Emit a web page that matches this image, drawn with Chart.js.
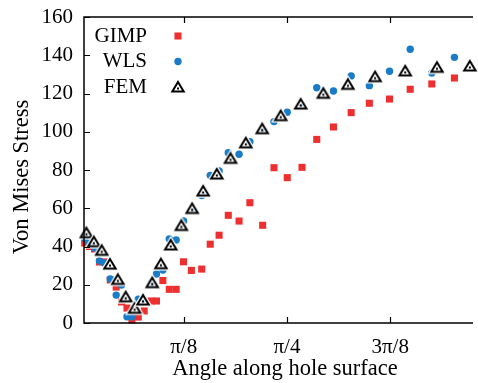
<!DOCTYPE html>
<html>
<head>
<meta charset="utf-8">
<script src="https://cdn.jsdelivr.net/npm/chart.js@4/dist/chart.umd.min.js"></script>
<style>
  html, body { margin: 0; padding: 0; background: #fff; }
</style>
</head>
<body>
<canvas id="stressChart" width="478" height="383"></canvas>
<script>
// angle along the hole surface, in degrees (ticks are shown as fractions of pi)
const angles = [0.92, 1.99, 3.06, 4.14, 5.21, 6.49, 7.78, 8.96, 10.13, 11.21, 12.6, 13.88, 15.38, 16.56, 17.96, 19.35, 20.85, 22.46, 24.17, 26.42, 28.28, 30.21, 32.21, 34.56, 36.92, 39.7, 42.17, 45.06, 48.28, 51.49, 55.13, 58.99, 62.95, 67.35, 71.85, 76.56, 81.49];
const gimp = [41.8, 40, 38.7, 31.9, 31.9, 22.5, 18.8, 11, 7.8, 1.6, 3.1, 6.3, 11.5, 11.5, 22.2, 17.6, 17.6, 32, 27.5, 28.2, 41.2, 45.9, 56.3, 53.3, 62.9, 51.1, 81.2, 76, 81.4, 96, 102.5, 110, 114.9, 117.1, 122.2, 125, 128.1];
const wls = [44.4, 41.8, 39.2, 32.4, 31.4, 23, 14.6, 19.9, 3.3, 3.3, 12.5, 12, 20.9, 25.6, 27.7, 43.9, 43.4, 53.3, 59.1, 66.7, 77.2, 79.5, 89, 88.2, 94.8, 101.3, 105.3, 110.2, 114, 123, 121.3, 129.2, 124.1, 131.6, 143.1, 130.7, 138.9];
const femAngles = [1.29, 2.91, 4.63, 6.43, 8.14, 9.86, 11.79, 13.63, 15.64, 17.53, 19.67, 21.98, 24.34, 26.74, 29.7, 32.7, 36.02, 39.6, 43.63, 48.0, 52.93, 58.28, 64.2, 70.77, 77.69, 84.85];
const fem = [47.2, 42.5, 38, 30.8, 22.8, 13.7, 7.7, 12, 21.1, 31, 40.8, 51, 59.9, 69, 77.9, 86.1, 94.2, 101.6, 108.4, 114.5, 120.1, 124.8, 128.8, 131.8, 133.7, 134.4];
const xTickValues = [22.5, 45, 67.5];
const xTickLabels = ['π/8', 'π/4', '3π/8'];
const xTitle = 'Angle along hole surface';
const yTitle = 'Von Mises Stress';

const serif = '"Liberation Serif", "Times New Roman", serif';

// open triangle with a dot, like gnuplot's point type
function triangleMarker() {
  const c = document.createElement('canvas');
  c.width = 20; c.height = 20;
  const g = c.getContext('2d');
  const path = function () {
    g.beginPath();
    g.moveTo(10, 5); g.lineTo(15.7, 14.5); g.lineTo(4.3, 14.5);
    g.closePath();
  };
  path(); g.strokeStyle = '#fff'; g.lineWidth = 4.5; g.stroke();
  path(); g.strokeStyle = '#000'; g.lineWidth = 2; g.stroke();
  g.fillStyle = '#000';
  g.fillRect(9, 10.5, 2, 2);
  return c;
}
const tri = triangleMarker();

function pts(xs, ys) {
  return xs.map(function (x, i) { return { x: x, y: ys[i] }; });
}

// frame, inward ticks and axis titles, gnuplot style
const framePlugin = {
  id: 'frame',
  afterDraw(chart) {
    const ctx = chart.ctx;
    const a = chart.chartArea;
    const xs = chart.scales.x, ys = chart.scales.y;
    ctx.save();
    ctx.strokeStyle = '#000';
    ctx.lineWidth = 1.5;
    ctx.beginPath();
    ctx.moveTo(a.right + 2, a.top); ctx.lineTo(a.left, a.top);
    ctx.lineTo(a.left, a.bottom); ctx.lineTo(a.right + 2, a.bottom);
    ctx.stroke();
    ctx.lineWidth = 1.2;
    ctx.beginPath();
    xTickValues.forEach(function (v) {
      const px = Math.round(xs.getPixelForValue(v)) + 0.5;
      ctx.moveTo(px, a.bottom); ctx.lineTo(px, a.bottom - 6);
      ctx.moveTo(px, a.top); ctx.lineTo(px, a.top + 6);
    });
    ys.ticks.forEach(function (t) {
      const py = Math.round(ys.getPixelForValue(t.value)) + 0.5;
      ctx.moveTo(a.left, py); ctx.lineTo(a.left + 6, py);
    });
    ctx.stroke();

    ctx.fillStyle = '#000';
    ctx.font = '22.5px ' + serif;
    ctx.textAlign = 'center';
    ctx.textBaseline = 'middle';
    ctx.fillText(xTitle, 285, 369);
    ctx.translate(22, 177);
    ctx.rotate(-Math.PI / 2);
    ctx.fillText(yTitle, 0, 0);
    ctx.restore();
  }
};

// legend inside the plot: text, then the marker to its right
const legendPlugin = {
  id: 'insideLegend',
  afterDraw(chart) {
    const ctx = chart.ctx;
    ctx.save();
    ctx.font = '21px ' + serif;
    ctx.textAlign = 'right';
    ctx.textBaseline = 'middle';
    chart.data.datasets.forEach(function (ds, i) {
      const y = 36 + i * 25.5;
      ctx.fillStyle = '#000';
      ctx.fillText(ds.label, 147, y);
      ctx.fillStyle = ds.backgroundColor;
      ctx.strokeStyle = ds.borderColor;
      ctx.lineWidth = ds.borderWidth;
      Chart.helpers.drawPoint(ctx, {
        pointStyle: ds.pointStyle, radius: ds.pointRadius,
        borderWidth: ds.borderWidth, rotation: 0
      }, 178, y);
    });
    ctx.restore();
  }
};

new Chart(document.getElementById('stressChart'), {
  type: 'scatter',
  data: {
    datasets: [
      {
        label: 'GIMP',
        data: pts(angles, gimp),
        pointStyle: 'rect',
        pointRadius: 5,
        borderWidth: 0,
        backgroundColor: '#ee2f30',
        borderColor: '#ee2f30',
        order: 3,
        clip: false
      },
      {
        label: 'WLS',
        data: pts(angles, wls),
        pointStyle: 'circle',
        pointRadius: 3.7,
        borderWidth: 0,
        backgroundColor: '#1a7bc6',
        borderColor: '#1a7bc6',
        order: 2,
        clip: false
      },
      {
        label: 'FEM',
        data: pts(femAngles, fem),
        pointStyle: tri,
        pointRadius: 7,
        borderWidth: 0,
        backgroundColor: '#000',
        borderColor: '#000',
        order: 1,
        clip: false
      }
    ]
  },
  options: {
    responsive: false,
    animation: false,
    layout: { padding: { top: 17, right: 0, left: 0, bottom: 0 } },
    plugins: {
      legend: { display: false },
      tooltip: { enabled: false }
    },
    scales: {
      x: {
        type: 'linear',
        min: 0.77,
        max: 85.1,
        grid: { display: false, drawTicks: false },
        border: { display: false },
        afterBuildTicks: function (scale) {
          scale.ticks = xTickValues.map(function (v) { return { value: v }; });
        },
        afterFit: function (scale) {
          scale.height = 60;
          scale.paddingLeft = 0;
          scale.paddingRight = 0;
        },
        ticks: {
          color: '#000',
          font: { family: serif, size: 21 },
          padding: 12,
          maxRotation: 0,
          callback: function (v) {
            const i = xTickValues.indexOf(v);
            return i >= 0 ? xTickLabels[i] : '';
          }
        }
      },
      y: {
        min: 0,
        max: 160,
        grid: { display: false, drawTicks: false },
        border: { display: false },
        afterFit: function (scale) {
          scale.width = 84;
          scale.paddingTop = 0;
          scale.paddingBottom = 0;
        },
        ticks: {
          stepSize: 20,
          color: '#000',
          font: { family: serif, size: 21 },
          padding: 11
        }
      }
    }
  },
  plugins: [framePlugin, legendPlugin]
});
</script>
</body>
</html>
